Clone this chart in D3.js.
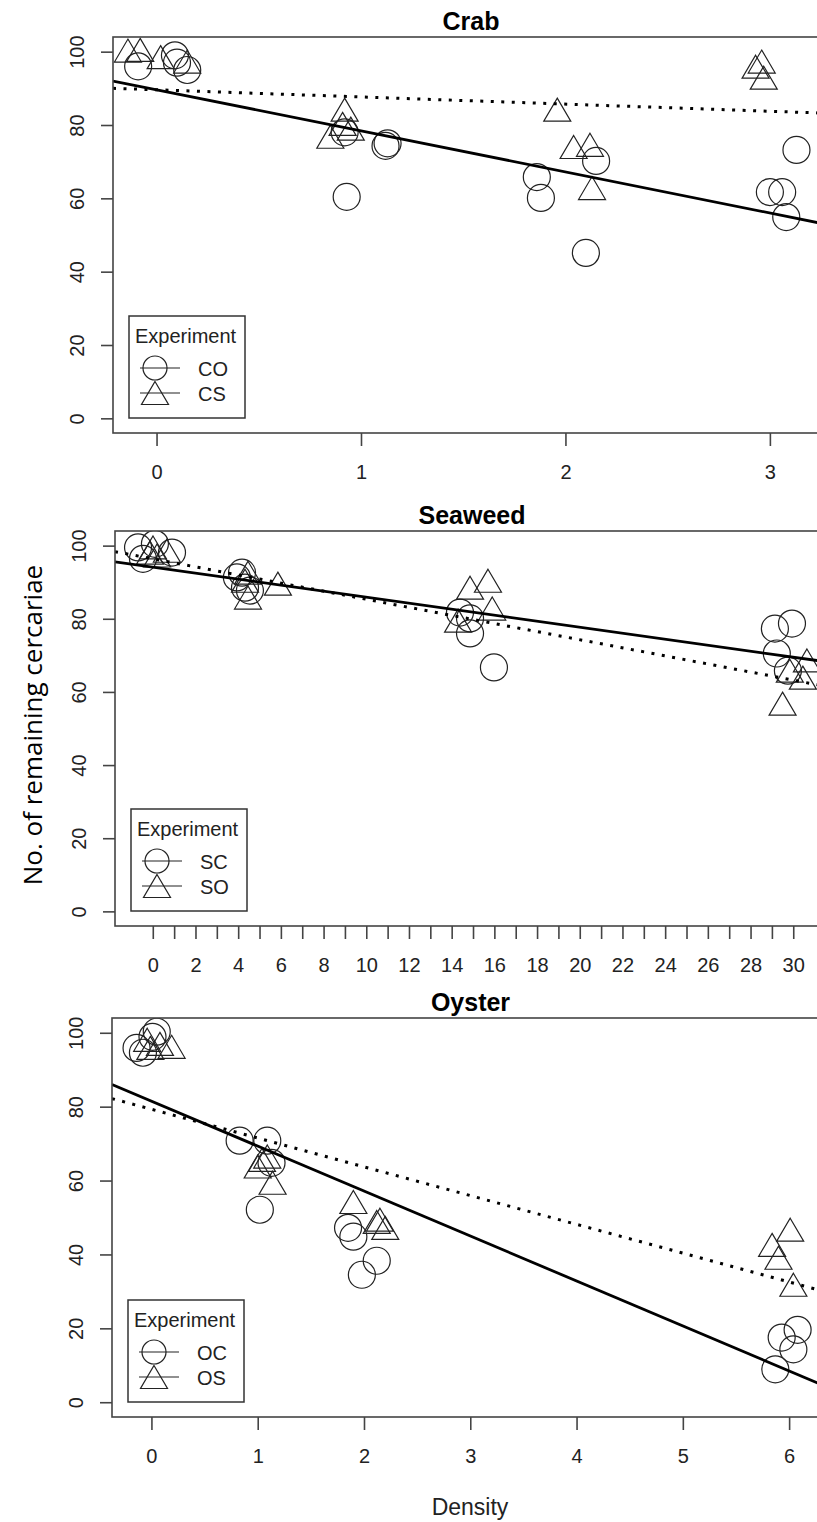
<!DOCTYPE html>
<html>
<head>
<meta charset="utf-8">
<script src="https://cdn.jsdelivr.net/npm/d3@7"></script>
<style>
  body { margin: 0; background: #fff; }
  svg { display: block; }
</style>
</head>
<body>
<svg></svg>
<script>
// ---- data ----
var titles = ['Crab', 'Seaweed', 'Oyster']
var legendNames = [['CO', 'CS'], ['SC', 'SO'], ['OC', 'OS']]

// crab
var crabCircleX = [-0.09, 0.09, 0.10, 0.15, 0.92, 1.12, 1.13, 0.93, 1.86, 1.88, 2.15, 2.10, 3.13, 3.00, 3.06, 3.08]
var crabCircleY = [96, 99, 97, 95, 78, 74.3, 75, 60.4, 65.8, 60.1, 70.2, 45.1, 73.2, 61.7, 61.7, 54.9]
var crabTriX = [-0.14, -0.08, 0.02, 0.15, 0.92, 0.91, 0.85, 0.95, 1.96, 2.04, 2.12, 2.13, 2.96, 2.93, 2.97]
var crabTriY = [100.3, 100.5, 98.5, 97.3, 84.2, 80.3, 76.8, 79, 84.2, 74, 74.6, 62.8, 97.3, 95.9, 92.9]

// seaweed
var seaCircleX = [-0.69, -0.46, 0.1, 0.9, 4.18, 4.32, 3.94, 4.55, 14.39, 14.86, 14.86, 15.98, 29.14, 29.94, 29.23, 29.75]
var seaCircleY = [99.5, 96.4, 100.5, 98.1, 92.6, 88.5, 91.3, 87.7, 81.7, 80.1, 76, 66.7, 77.3, 78.7, 70.5, 65.8]
var seaTriX = [0.01, -0.13, 0.66, 0.2, 4.46, 4.46, 5.86, 4.32, 14.86, 15.7, 15.9, 14.3, 30.64, 29.84, 30.45, 29.5]
var seaTriY = [99.5, 98.1, 98.6, 97.3, 92.6, 85.8, 89.6, 90.4, 88.5, 90.4, 82.8, 79.5, 68.6, 65.8, 63.9, 56.8]

// oyster
var oysCircleX = [-0.14, -0.08, 0.05, 0.01, 0.83, 1.09, 1.13, 1.02, 1.85, 1.9, 2.12, 1.98, 5.93, 6.08, 6.04, 5.87]
var oysCircleY = [95.9, 94.6, 100.3, 98.9, 70.8, 70.8, 64.8, 52.1, 47.2, 44.8, 38.3, 34.5, 17.5, 19.6, 14.3, 8.9]
var oysTriX = [-0.04, 0.19, -0.01, 0.08, 1.0, 1.09, 1.14, 1.04, 1.9, 2.12, 2.15, 2.2, 6.01, 5.84, 5.9, 6.04]
var oysTriY = [98.1, 96.2, 95.9, 97, 63.8, 66.5, 59.4, 65.6, 54.2, 48.8, 49.4, 47.2, 46.7, 42.6, 39.1, 31.8]

// fitted lines: [intercept, slope]  (solid = circles, dotted = triangles)
var solidFits = [[89.6, -11.2], [94.1, -0.82], [81.5, -12.17]]
var dottedFits = [[89.6, -1.95], [96.4, -1.106], [79.3, -7.79]]

// axes
var xDomains = [[-0.213, 3.25], [-1.77, 31.3], [-0.371, 6.3]]
var xTicks = [[0, 1, 2, 3], d3.range(0, 31), [0, 1, 2, 3, 4, 5, 6]]
var yTicks = [0, 20, 40, 60, 80, 100]

// ---- layout ----
var svgWidth = 817, svgHeight = 1522
var plotRight = 821
var boxes = [
    {top: 37, bottom: 433, left: 113},
    {top: 531, bottom: 926, left: 115},
    {top: 1018, bottom: 1417, left: 112}
]
var font = '"Liberation Sans", Arial, sans-serif'

var svg = d3.select('svg')
    .attr('width', svgWidth)
    .attr('height', svgHeight)

svg.append('rect').attr('width', svgWidth).attr('height', svgHeight).attr('fill', '#fff')

var triPath = 'M0,-11.5L13.5,11.5L-13.5,11.5Z'

var points = [
    [crabCircleX, crabCircleY, crabTriX, crabTriY],
    [seaCircleX, seaCircleY, seaTriX, seaTriY],
    [oysCircleX, oysCircleY, oysTriX, oysTriY]
]

function drawPanel(i) {
    var b = boxes[i]
    var x = d3.scaleLinear().domain(xDomains[i]).range([b.left, plotRight])
    var y = d3.scaleLinear().domain([-4, 104]).range([b.bottom, b.top])

    var g = svg.append('g')

    // clip for marks
    var clipId = 'clip' + i
    g.append('clipPath').attr('id', clipId)
        .append('rect')
        .attr('x', b.left).attr('y', b.top)
        .attr('width', plotRight - b.left).attr('height', b.bottom - b.top)

    var marks = g.append('g').attr('clip-path', 'url(#' + clipId + ')')

    // points
    var p = points[i]
    var circ = p[0].map(function(d, k) { return [d, p[1][k]] })
    var tri = p[2].map(function(d, k) { return [d, p[3][k]] })

    marks.selectAll('circle.pt')
        .data(circ)
        .enter()
        .append('circle')
        .attr('class', 'pt')
        .attr('cx', function(d) { return x(d[0]) })
        .attr('cy', function(d) { return y(d[1]) })
        .attr('r', 13.5)
        .attr('fill', 'none')
        .attr('stroke', '#222')
        .attr('stroke-width', 1.2)

    marks.selectAll('path.tri')
        .data(tri)
        .enter()
        .append('path')
        .attr('class', 'tri')
        .attr('d', triPath)
        .attr('transform', function(d) { return 'translate(' + x(d[0]) + ',' + y(d[1]) + ')' })
        .attr('fill', 'none')
        .attr('stroke', '#222')
        .attr('stroke-width', 1.2)

    // fitted lines
    var xd = xDomains[i]
    var line = d3.line().x(function(d) { return x(d[0]) }).y(function(d) { return y(d[1]) })
    var sf = solidFits[i], df = dottedFits[i]
    marks.append('path')
        .attr('d', line(xd.map(function(v) { return [v, sf[0] + sf[1] * v] })))
        .attr('fill', 'none').attr('stroke', '#000').attr('stroke-width', 2.8)
    marks.append('path')
        .attr('d', line(xd.map(function(v) { return [v, df[0] + df[1] * v] })))
        .attr('fill', 'none').attr('stroke', '#000').attr('stroke-width', 3)
        .attr('stroke-dasharray', '3,7.5')

    // box
    g.append('rect')
        .attr('x', b.left).attr('y', b.top)
        .attr('width', plotRight - b.left).attr('height', b.bottom - b.top)
        .attr('fill', 'none').attr('stroke', '#444').attr('stroke-width', 1.6)

    // x axis
    var xAxis = d3.axisBottom(x)
        .tickValues(xTicks[i])
        .tickSize(13)
        .tickFormat(function(d) { return (i === 1 && d % 2 !== 0) ? '' : d })
    var xg = g.append('g')
        .attr('transform', 'translate(0,' + b.bottom + ')')
        .call(xAxis)
    xg.select('.domain').remove()
    xg.selectAll('line').attr('stroke', '#444').attr('stroke-width', 1.6)
    xg.selectAll('text')
        .attr('y', 46).attr('dy', null)
        .attr('fill', '#222')
        .style('font-family', font).style('font-size', '20px')

    // y axis
    var yAxis = d3.axisLeft(y).tickValues(yTicks).tickSize(12)
    var yg = g.append('g')
        .attr('transform', 'translate(' + b.left + ',0)')
        .call(yAxis)
    yg.select('.domain').remove()
    yg.selectAll('line').attr('stroke', '#444').attr('stroke-width', 1.6)
    yg.selectAll('text')
        .attr('x', null).attr('dy', null)
        .attr('text-anchor', 'middle')
        .attr('transform', 'translate(-29,0) rotate(-90)')
        .attr('fill', '#222')
        .style('font-family', font).style('font-size', '20px')

    // title
    g.append('text')
        .attr('x', (b.left + plotRight) / 2 + 4)
        .attr('y', b.top - 7)
        .attr('text-anchor', 'middle')
        .attr('fill', '#000')
        .style('font-family', font).style('font-size', '25px').style('font-weight', 'bold')
        .text(titles[i])

    // legend
    var lx = b.left + 16, ly = b.bottom - 15 - 102
    var lg = g.append('g').attr('transform', 'translate(' + lx + ',' + ly + ')')
    lg.append('rect').attr('width', 116).attr('height', 102)
        .attr('fill', '#fff').attr('stroke', '#333').attr('stroke-width', 1.5)
    lg.append('text').attr('x', 6).attr('y', 27)
        .attr('fill', '#222')
        .style('font-family', font).style('font-size', '20px')
        .text('Experiment')
    var rows = [52, 77]
    rows.forEach(function(ry, k) {
        lg.append('line').attr('x1', 11).attr('x2', 51).attr('y1', ry).attr('y2', ry)
            .attr('stroke', '#222').attr('stroke-width', 1.2)
        if (k === 0) {
            lg.append('circle').attr('cx', 26).attr('cy', ry).attr('r', 12)
                .attr('fill', 'none').attr('stroke', '#222').attr('stroke-width', 1.2)
        } else {
            lg.append('path').attr('d', triPath).attr('transform', 'translate(26,' + ry + ')')
                .attr('fill', 'none').attr('stroke', '#222').attr('stroke-width', 1.2)
        }
        lg.append('text').attr('x', 69).attr('y', ry + 8)
            .attr('fill', '#222')
            .style('font-family', font).style('font-size', '20px')
            .text(legendNames[i][k])
    })
}

for (var i = 0; i < 3; i++) drawPanel(i)

// shared axis titles
svg.append('text')
    .attr('transform', 'translate(42,725) rotate(-90)')
    .attr('text-anchor', 'middle')
    .attr('fill', '#000')
    .style('font-family', '"Open Sans", "Noto Sans", sans-serif').style('font-size', '26px')
    .text('No. of remaining cercariae')

svg.append('text')
    .attr('x', 470).attr('y', 1515)
    .attr('text-anchor', 'middle')
    .attr('fill', '#222')
    .style('font-family', font).style('font-size', '23px')
    .text('Density')
</script>
</body>
</html>
